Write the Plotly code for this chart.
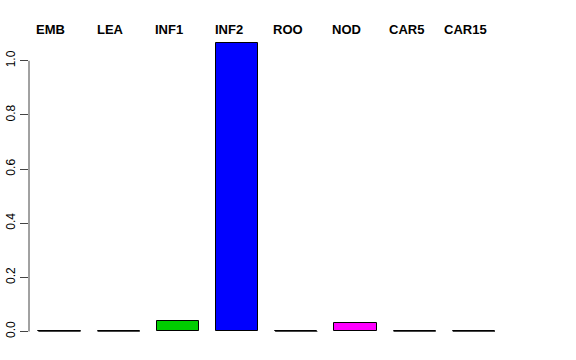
import plotly.graph_objects as go

categories = ["EMB", "LEA", "INF1", "INF2", "ROO", "NOD", "CAR5", "CAR15"]
values = [0.0, 0.0, 0.040, 1.066, 0.0, 0.032, 0.0, 0.0]
colors = ["#BEBEBE", "#BEBEBE", "#00CD00", "#0000FF", "#BEBEBE", "#FF00FF", "#BEBEBE", "#BEBEBE"]
tick_vals = [0.0, 0.2, 0.4, 0.6, 0.8, 1.0]
tick_text = ["0.0", "0.2", "0.4", "0.6", "0.8", "1.0"]

xpos = list(range(len(categories)))
bar_w = 0.714

fig = go.Figure()
fig.add_trace(go.Bar(
    x=xpos, y=values, width=bar_w,
    marker=dict(color=colors, line=dict(color="black", width=1)),
    hoverinfo="skip", showlegend=False,
))

shapes = []
# zero-height bars drawn as flat outlines, like R's barplot
for xi, v in zip(xpos, values):
    if v == 0:
        shapes.append(dict(type="line", xref="x", yref="y",
                           x0=xi - bar_w / 2, x1=xi + bar_w / 2, y0=v, y1=v,
                           line=dict(color="#444444", width=1)))
# axis line spanning the tick range only
shapes.append(dict(type="line", xref="paper", yref="y", x0=0, x1=0,
                   y0=tick_vals[0], y1=tick_vals[-1],
                   line=dict(color="#444444", width=1)))

annotations = []
for xi, c in zip(xpos, categories):
    annotations.append(dict(x=xi - 0.145, y=1.004, xref="x", yref="paper",
                            text="<b>" + c + "</b>", showarrow=False,
                            xanchor="center", yanchor="middle",
                            font=dict(family="Liberation Sans, Arial", size=13, color="black")))

fig.update_layout(
    width=576, height=360,
    margin=dict(l=29, r=63, t=31, b=17),
    paper_bgcolor="white", plot_bgcolor="white",
    xaxis=dict(range=[-0.515, 7.661], visible=False, showgrid=False, zeroline=False,
               automargin=False),
    yaxis=dict(range=[-0.0425, 1.11], tickvals=tick_vals, ticktext=tick_text,
               ticks="outside", ticklen=8, tickcolor="#444444", tickwidth=1,
               tickangle=-90, showgrid=False, zeroline=False, showline=False,
               automargin=False,
               tickfont=dict(family="Liberation Sans, Arial", size=12, color="black")),
    shapes=shapes, annotations=annotations,
    bargap=0,
)

fig.write_html("out.html")
